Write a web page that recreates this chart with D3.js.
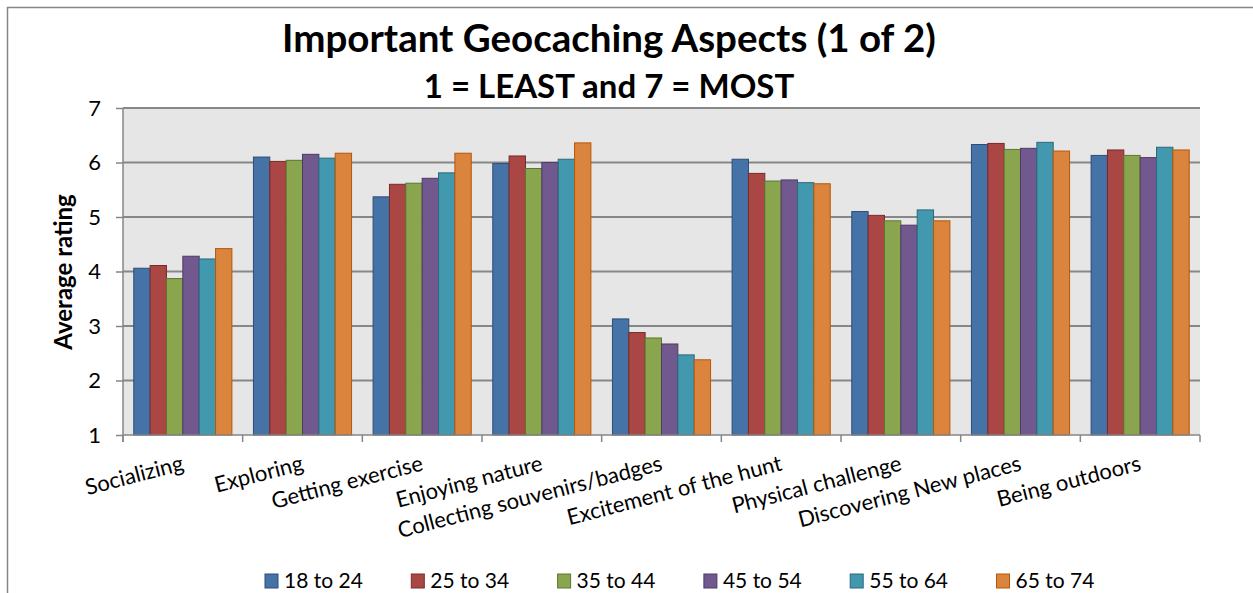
<!DOCTYPE html>
<html>
<head>
<meta charset="utf-8">
<script src="https://cdn.jsdelivr.net/npm/d3@7"></script>
<style>
    html, body { margin: 0; padding: 0; background: #fff; }
    svg { display: block; font-family: Lato, "Open Sans", sans-serif; }
</style>
</head>
<body>
<svg id="graph" width="1253" height="593"></svg>
<script>
// chart values
var categories = ['Socializing', 'Exploring', 'Getting exercise', 'Enjoying nature',
    'Collecting souvenirs/badges', 'Excitement of the hunt', 'Physical challenge',
    'Discovering New places', 'Being outdoors'];
var seriesNames = ['18 to 24', '25 to 34', '35 to 44', '45 to 54', '55 to 64', '65 to 74'];
var age18to24 = [4.06, 6.10, 5.37, 5.98, 3.13, 6.06, 5.10, 6.33, 6.13];
var age25to34 = [4.11, 6.02, 5.60, 6.12, 2.88, 5.80, 5.03, 6.35, 6.23];
var age35to44 = [3.87, 6.04, 5.62, 5.89, 2.78, 5.66, 4.93, 6.24, 6.13];
var age45to54 = [4.28, 6.15, 5.71, 6.00, 2.67, 5.68, 4.85, 6.26, 6.09];
var age55to64 = [4.23, 6.08, 5.81, 6.06, 2.47, 5.63, 5.13, 6.37, 6.28];
var age65to74 = [4.42, 6.17, 6.17, 6.36, 2.38, 5.61, 4.93, 6.21, 6.23];
var yTicks = [1, 2, 3, 4, 5, 6, 7];

(function () {
    'use strict';

    var seriesValues = [age18to24, age25to34, age35to44, age45to54, age55to64, age65to74];
    var fills = ['#4572A7', '#AA4643', '#89A54E', '#71588F', '#4198AF', '#DB843D'];
    var strokes = ['#2C4D75', '#772C2A', '#5F7530', '#4D3B62', '#2C6979', '#B65708'];

    var plot = { left: 123, right: 1200, top: 108, bottom: 435 };

    var svg = d3.select('#graph');

    // chart area border (left + top edges)
    svg.append('path')
        .attr('d', 'M7.5,593 V7.5 H1253')
        .attr('fill', 'none')
        .attr('stroke', '#868686')
        .attr('stroke-width', 1.5);

    // plot background
    svg.append('rect')
        .attr('x', plot.left)
        .attr('y', plot.top)
        .attr('width', plot.right - plot.left)
        .attr('height', plot.bottom - plot.top)
        .attr('fill', '#E6E6E6');

    // scales
    var x0 = d3.scaleBand()
        .domain(categories)
        .range([plot.left, plot.right])
        .paddingInner(0.18)
        .paddingOuter(0.09);

    var x1 = d3.scaleBand()
        .domain(d3.range(seriesNames.length))
        .range([0, x0.bandwidth()]);

    var y = d3.scaleLinear()
        .domain([1, 7])
        .range([plot.bottom, plot.top]);

    // gridlines
    svg.append('g')
        .selectAll('line')
        .data(yTicks.slice(1))
        .enter().append('line')
        .attr('x1', plot.left)
        .attr('x2', plot.right)
        .attr('y1', function (d) { return y(d); })
        .attr('y2', function (d) { return y(d); })
        .attr('stroke', '#878787')
        .attr('stroke-width', 1.8);

    // bars
    var group = svg.append('g')
        .selectAll('g')
        .data(categories)
        .enter().append('g')
        .attr('transform', function (d) { return 'translate(' + x0(d) + ',0)'; });

    group.selectAll('rect')
        .data(function (d, i) {
            return seriesValues.map(function (vals, s) { return { s: s, value: vals[i] }; });
        })
        .enter().append('rect')
        .attr('x', function (d) { return x1(d.s); })
        .attr('y', function (d) { return y(d.value); })
        .attr('width', x1.bandwidth())
        .attr('height', function (d) { return y(1) - y(d.value); })
        .attr('fill', function (d) { return fills[d.s]; })
        .attr('stroke', function (d) { return strokes[d.s]; })
        .attr('stroke-width', 1);

    // y axis
    var yAxis = svg.append('g')
        .attr('transform', 'translate(' + plot.left + ',0)')
        .call(d3.axisLeft(y).tickValues(yTicks).tickSize(7).tickPadding(15).tickFormat(d3.format('d')));
    yAxis.select('.domain').attr('stroke', '#868686').attr('stroke-width', 1.5)
        .attr('d', 'M0,' + plot.top + 'V' + (plot.bottom + 7));
    yAxis.selectAll('.tick line').attr('stroke', '#868686').attr('stroke-width', 1.5);
    yAxis.selectAll('.tick text')
        .attr('font-size', 22)
        .attr('fill', '#000')
        .attr('font-family', 'Lato');

    // x axis: boundary ticks
    var bounds = categories.map(function (c) { return x0(c) - x0.step() * x0.paddingOuter(); });
    bounds.push(plot.right);
    svg.append('line')
        .attr('x1', plot.left)
        .attr('x2', plot.right)
        .attr('y1', plot.bottom)
        .attr('y2', plot.bottom)
        .attr('stroke', '#868686')
        .attr('stroke-width', 1.5);
    svg.append('g')
        .selectAll('line')
        .data(bounds)
        .enter().append('line')
        .attr('x1', function (d) { return d; })
        .attr('x2', function (d) { return d; })
        .attr('y1', plot.bottom)
        .attr('y2', plot.bottom + 7)
        .attr('stroke', '#868686')
        .attr('stroke-width', 1.5);

    // rotated category labels, end anchored at the category centre
    svg.append('g')
        .selectAll('text')
        .data(categories)
        .enter().append('text')
        .attr('transform', function (d) {
            return 'translate(' + (x0(d) + x0.bandwidth() / 2 + 2) + ',470) rotate(-14.5)';
        })
        .attr('text-anchor', 'end')
        .attr('font-size', 22)
        .text(function (d) { return d; });

    // y axis title
    svg.append('text')
        .attr('transform', 'translate(72,272) rotate(-90)')
        .attr('text-anchor', 'middle')
        .attr('font-size', 24)
        .attr('font-weight', 'bold')
        .text('Average rating');

    // titles
    svg.append('text')
        .attr('x', 609)
        .attr('y', 52)
        .attr('text-anchor', 'middle')
        .attr('font-size', 38.5)
        .attr('font-weight', 'bold')
        .text('Important Geocaching Aspects (1 of 2)');

    svg.append('text')
        .attr('x', 609)
        .attr('y', 98)
        .attr('text-anchor', 'middle')
        .attr('font-size', 33)
        .attr('font-weight', 'bold')
        .text('1 = LEAST and 7 = MOST');

    // legend
    var legend = svg.append('g')
        .selectAll('g')
        .data(seriesNames)
        .enter().append('g')
        .attr('transform', function (d, i) { return 'translate(' + (265 + i * 146.3) + ',574)'; });

    legend.append('rect')
        .attr('width', 13)
        .attr('height', 14)
        .attr('fill', function (d, i) { return fills[i]; })
        .attr('stroke', function (d, i) { return strokes[i]; });

    legend.append('text')
        .attr('x', 19)
        .attr('y', 14)
        .attr('font-size', 21)
        .text(function (d) { return d; });
})();
</script>
</body>
</html>
